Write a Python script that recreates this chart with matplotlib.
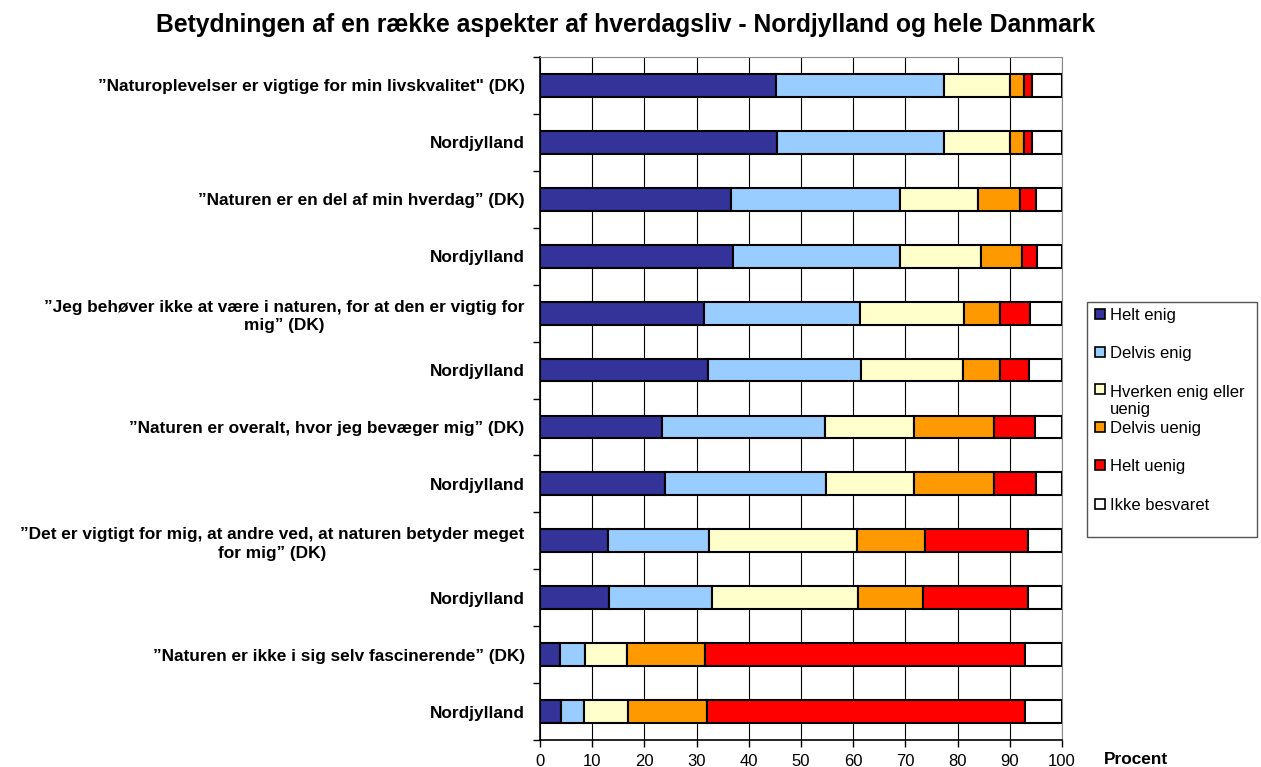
import numpy as np
import matplotlib
matplotlib.use("Agg")
import matplotlib.pyplot as plt
from matplotlib.patches import Rectangle

plt.rcParams['font.family'] = ['Liberation Sans', 'DejaVu Sans']

# data (percent)
labels = [
    '”Naturoplevelser er vigtige for min livskvalitet" (DK)',
    'Nordjylland',
    '”Naturen er en del af min hverdag” (DK)',
    'Nordjylland',
    '”Jeg behøver ikke at være i naturen, for at den er vigtig for\nmig” (DK)',
    'Nordjylland',
    '”Naturen er overalt, hvor jeg bevæger mig” (DK)',
    'Nordjylland',
    '”Det er vigtigt for mig, at andre ved, at naturen betyder meget\nfor mig” (DK)',
    'Nordjylland',
    '”Naturen er ikke i sig selv fascinerende” (DK)',
    'Nordjylland',
]
helt_enig = [45.3, 45.4, 36.5, 37.0, 31.4, 32.1, 23.3, 23.9, 13.0, 13.3, 3.8, 4.0]
delvis_enig = [32.0, 32.0, 32.4, 31.9, 29.9, 29.4, 31.3, 30.8, 19.3, 19.6, 4.9, 4.5]
hverken = [12.7, 12.6, 15.1, 15.5, 20.0, 19.6, 17.0, 17.0, 28.5, 28.0, 8.0, 8.4]
delvis_uenig = [2.7, 2.7, 7.9, 7.9, 6.8, 7.0, 15.3, 15.2, 12.9, 12.5, 15.0, 15.0]
helt_uenig = [1.6, 1.6, 3.2, 3.0, 5.7, 5.6, 8.0, 8.1, 19.8, 20.0, 61.2, 61.0]
ikke_besvaret = [5.7, 5.7, 4.9, 4.7, 6.2, 6.3, 5.1, 5.0, 6.5, 6.6, 7.1, 7.1]

series_names = ['Helt enig', 'Delvis enig', 'Hverken enig eller\nuenig',
                'Delvis uenig', 'Helt uenig', 'Ikke besvaret']
series = [helt_enig, delvis_enig, hverken, delvis_uenig, helt_uenig, ikke_besvaret]
colors = ['#333399', '#99CCFF', '#FFFFCC', '#FF9900', '#FF0000', '#FFFFFF']

W, H = 1261, 767
fig = plt.figure(figsize=(W / 100, H / 100), dpi=100)
ax = fig.add_axes([540 / W, 1 - 740 / H, 522 / W, 683 / H])

y = np.arange(len(labels))
left = np.zeros(len(labels))
for vals, c in zip(series, colors):
    ax.barh(y, vals, left=left, height=0.4, color=c, edgecolor='black',
            linewidth=1.5, zorder=3)
    left += np.array(vals)

ax.set_xlim(0, 100)
ax.set_ylim(len(labels) - 0.5, -0.5)
ax.set_xticks(np.arange(0, 101, 10))
ax.tick_params(axis='x', direction='out', length=5, width=1, labelsize=12, pad=5)
ax.set_yticks(np.arange(-0.5, len(labels), 1))
ax.set_yticklabels([])
ax.tick_params(axis='y', which='major', direction='out', length=5, width=1)
ax.set_yticks(y, minor=True)
ax.set_yticklabels(labels, minor=True, fontsize=12.4, fontweight='bold')
ax.tick_params(axis='y', which='minor', length=0, pad=11)
for t in ax.get_yticklabels(minor=True):
    t.set_multialignment('center')
    t.set_linespacing(1.3)

ax.grid(axis='x', color='black', linewidth=0.8, zorder=0)
ax.spines['top'].set_color('#888888')
ax.spines['right'].set_color('#888888')
ax.spines['left'].set_linewidth(1.2)
ax.spines['bottom'].set_linewidth(1.2)

fig.text(626 / W, 1 - 25 / H, 'Betydningen af en række aspekter af hverdagsliv - Nordjylland og hele Danmark',
         ha='center', va='center', fontsize=17.8, fontweight='bold')
fig.text(1104 / W, 1 - 760 / H, 'Procent', ha='left', va='center',
         fontsize=12.4, fontweight='bold')

# legend box drawn by hand (rows at fixed spacing, as in the original)
fig.patches.append(Rectangle((1087 / W, 1 - 537 / H), 170 / W, 235 / H,
                             transform=fig.transFigure, facecolor='white',
                             edgecolor='#555555', linewidth=1))
row_y = [314, 352, 389, 427, 465, 504]
for name, c, ry in zip(series_names, colors, row_y):
    fig.patches.append(Rectangle((1095 / W, 1 - (ry + 5) / H), 10 / W, 10 / H,
                                 transform=fig.transFigure, facecolor=c,
                                 edgecolor='black', linewidth=1.2))
    extra = 19 * name.count('\n')
    fig.text(1110 / W, 1 - (ry + 6 + extra) / H, name, ha='left', va='baseline',
             fontsize=12, linespacing=1.15)

fig.savefig('out.png', dpi=100)
